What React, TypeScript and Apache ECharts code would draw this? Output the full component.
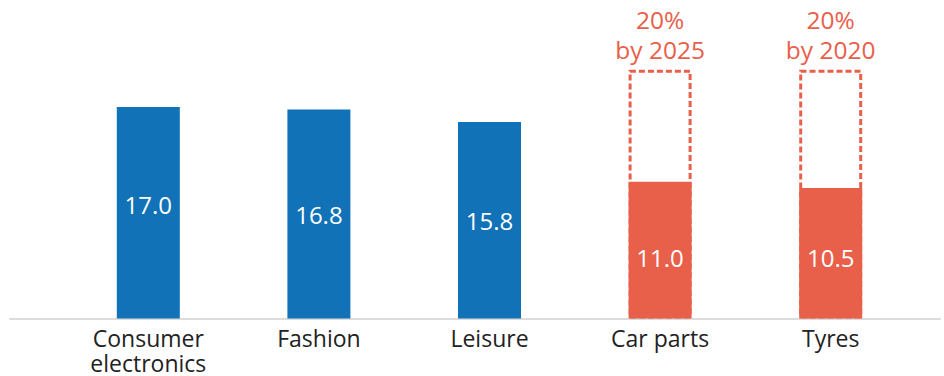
import React, { useEffect, useRef } from "react";
import * as echarts from "echarts";

const categories = ["Consumer\nelectronics", "Fashion", "Leisure", "Car parts", "Tyres"];
const actualValues = [17.0, 16.8, 15.8, 11.0, 10.5];
const targetValues = [null, null, null, 20, 20];
const targetLabels = ["", "", "", "20%\nby 2025", "20%\nby 2020"];
const barColors = ["#1172B8", "#1172B8", "#1172B8", "#E8604A", "#E8604A"];
const labelOffsets = [-8, 0, 0, 7, 4];

const FONT = "'Open Sans', sans-serif";

export default function App() {
  const ref = useRef<HTMLDivElement>(null);
  useEffect(() => {
    document.body.style.margin = "0";
    if (!ref.current) return;
    const chart = echarts.init(ref.current, undefined, { renderer: "svg" });
    chart.setOption({
      animation: false,
      grid: [
        { left: 63, right: 28, top: 7.5, bottom: 57.5 },
        { left: 10, right: 4, top: 7.5, bottom: 57.5 },
      ],
      xAxis: [
        {
          type: "category",
          data: categories,
          gridIndex: 0,
          axisLine: { show: false },
          axisTick: { show: false },
          axisLabel: {
            color: "#222",
            fontFamily: FONT,
            fontSize: 23,
            lineHeight: 25,
            margin: 7,
            interval: 0,
          },
        },
        {
          type: "value",
          gridIndex: 1,
          min: 0,
          max: 1,
          axisLine: { show: true, lineStyle: { color: "#dcdcdc", width: 2 } },
          axisTick: { show: false },
          axisLabel: { show: false },
          splitLine: { show: false },
        },
      ],
      yAxis: [
        { type: "value", min: 0, max: 25, gridIndex: 0, show: false },
        { type: "value", min: 0, max: 1, gridIndex: 1, show: false },
      ],
      series: [
        {
          type: "bar",
          name: "Target",
          xAxisIndex: 0,
          yAxisIndex: 0,
          barWidth: 63,
          barGap: "-100%",
          data: targetValues.map((v, i) => ({
            value: v,
            label: { formatter: targetLabels[i] },
          })),
          itemStyle: {
            color: "rgba(0,0,0,0)",
            borderColor: "#E8604A",
            borderWidth: 3,
            borderType: [6, 3],
          },
          label: {
            show: true,
            position: "top",
            distance: 5,
            color: "#E8604A",
            fontFamily: FONT,
            fontSize: 24.5,
            lineHeight: 30,
            align: "center",
          },
          z: 2,
        },
        {
          type: "bar",
          name: "Share",
          xAxisIndex: 0,
          yAxisIndex: 0,
          barWidth: 63,
          barGap: "-100%",
          data: actualValues.map((v, i) => ({
            value: v,
            itemStyle: { color: barColors[i] },
            label: { offset: [0, labelOffsets[i]] },
          })),
          label: {
            show: true,
            position: "inside",
            color: "#fff",
            fontFamily: FONT,
            fontSize: 24,
            formatter: (p: any) => Number(p.value).toFixed(1),
          },
          z: 3,
        },
      ],
    });
    return () => chart.dispose();
  }, []);
  return <div ref={ref} style={{ width: 944, height: 376 }} />;
}
